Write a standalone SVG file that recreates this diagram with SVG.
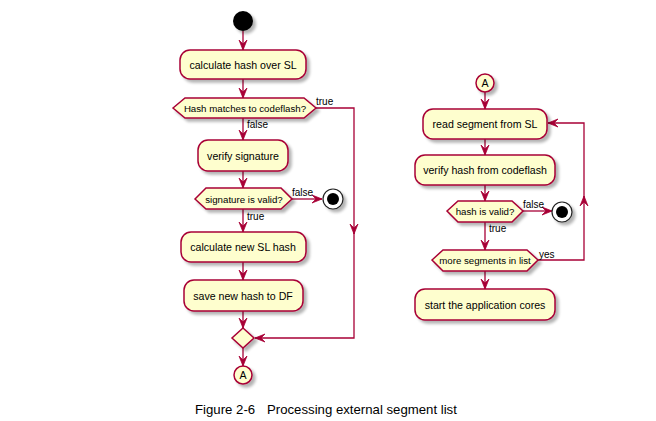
<svg xmlns="http://www.w3.org/2000/svg" width="656" height="421" viewBox="0 0 656 421">
<style>
.box{fill:#FEFECE;stroke:#A80036;stroke-width:1.5;filter:url(#sh)}
.t{font-family:"Liberation Sans",Arial,sans-serif;font-size:10.6px;fill:#000;text-anchor:middle}
.d{font-family:"Liberation Sans",Arial,sans-serif;font-size:9.7px;fill:#000;text-anchor:middle}
.l{font-family:"Liberation Sans",Arial,sans-serif;font-size:10px;fill:#000}
.c{fill:none;stroke:#A80036;stroke-width:1.3;marker-end:url(#ah)}
.cap{font-family:"Liberation Sans",Arial,sans-serif;font-size:13.2px;fill:#000}
</style>
<defs>
<filter id="sh" x="-20%" y="-20%" width="150%" height="170%">
<feGaussianBlur in="SourceAlpha" stdDeviation="1.8"/>
<feOffset dx="3" dy="3" result="b"/>
<feComponentTransfer><feFuncA type="linear" slope="0.3"/></feComponentTransfer>
<feMerge><feMergeNode/><feMergeNode in="SourceGraphic"/></feMerge>
</filter>
<marker id="ah" viewBox="0 0 10 10" refX="10" refY="5" markerWidth="10" markerHeight="10" markerUnits="userSpaceOnUse" orient="auto">
<path d="M0,1 L10,5 L0,9 L4,5 Z" fill="#A80036" stroke="#A80036" stroke-width="0.8"/>
</marker>
</defs>
<rect width="656" height="421" fill="#fff"/>

<g id="connectors">
<path class="c" d="M243,31 V50"/>
<path class="c" d="M243,79 V98"/>
<path class="c" d="M243,118 V140"/>
<path class="c" d="M243,171 V188"/>
<path class="c" d="M292,199 H322"/>
<path class="c" d="M243,209 V232"/>
<path class="c" d="M243,262 V280"/>
<path class="c" d="M243,311 V328"/>
<path class="c" d="M316,108 H354 V234"/>
<path class="c" d="M354,230 V338 H255"/>
<path class="c" d="M243,348 V366"/>
<path class="c" d="M485,92 V109"/>
<path class="c" d="M485,139 V155"/>
<path class="c" d="M485,185 V201"/>
<path class="c" d="M523,211 H552"/>
<path class="c" d="M485,222 V250"/>
<path class="c" d="M538,260 H584 V196"/>
<path class="c" d="M584,200 V123 H548"/>
<path class="c" d="M485,271 V289"/>
<text class="l" x="247" y="128">false</text>
<text class="l" x="316" y="105">true</text>
<text class="l" x="292" y="196">false</text>
<text class="l" x="247" y="220">true</text>
<text class="l" x="523" y="208">false</text>
<text class="l" x="489" y="232">true</text>
<text class="l" x="539" y="258">yes</text>
</g>

<g id="start"><circle cx="243" cy="21" r="10" fill="#000" filter="url(#sh)"/></g>
<g id="n1"><rect class="box" x="180" y="50" width="126" height="29" rx="10"/><text class="t" x="243" y="68.5">calculate hash over SL</text></g>
<g id="d1"><polygon class="box" points="173,108 185,98 304,98 316,108 304,118 185,118"/><text class="d" x="245" y="111.5">Hash matches to codeflash?</text></g>
<g id="n2"><rect class="box" x="198" y="140" width="90" height="31" rx="10"/><text class="t" x="243" y="159.5">verify signature</text></g>
<g id="d2"><polygon class="box" points="195,199 206,188 281,188 292,199 281,209 206,209"/><text class="d" x="244" y="202.5">signature is valid?</text></g>
<g id="stop1"><circle cx="333" cy="199" r="10" fill="#fff" stroke="#222" stroke-width="1.2" filter="url(#sh)"/><circle cx="333" cy="199" r="6" fill="#000"/></g>
<g id="n3"><rect class="box" x="181" y="232" width="125" height="30" rx="10"/><text class="t" x="243" y="251">calculate new SL hash</text></g>
<g id="n4"><rect class="box" x="184" y="280" width="119" height="31" rx="10"/><text class="t" x="243" y="299.5">save new hash to DF</text></g>
<g id="merge"><polygon class="box" points="243,328 254,338 243,348 232,338"/></g>
<g id="a1"><circle class="box" cx="243" cy="375" r="9"/><text class="t" x="243" y="379">A</text></g>

<g id="a2"><circle class="box" cx="485" cy="83" r="9"/><text class="t" x="485" y="87">A</text></g>
<g id="n5"><rect class="box" x="423" y="109" width="124" height="30" rx="10"/><text class="t" x="485" y="128">read segment from SL</text></g>
<g id="n6"><rect class="box" x="415" y="155" width="140" height="30" rx="10"/><text class="t" x="485" y="174">verify hash from codeflash</text></g>
<g id="d3"><polygon class="box" points="447,211 458,201 512,201 523,211 512,222 458,222"/><text class="d" x="485" y="214.5">hash is valid?</text></g>
<g id="stop2"><circle cx="562" cy="212" r="10" fill="#fff" stroke="#222" stroke-width="1.2" filter="url(#sh)"/><circle cx="562" cy="212" r="6" fill="#000"/></g>
<g id="d4"><polygon class="box" points="432,260 443,250 527,250 538,260 527,271 443,271"/><text class="d" x="485" y="263.5">more segments in list</text></g>
<g id="n7"><rect class="box" x="415" y="289" width="140" height="31" rx="10"/><text class="t" x="485" y="308.5">start the application cores</text></g>

<text class="cap" x="195" y="414">Figure 2-6</text>
<text class="cap" x="267" y="414">Processing external segment list</text>
</svg>
